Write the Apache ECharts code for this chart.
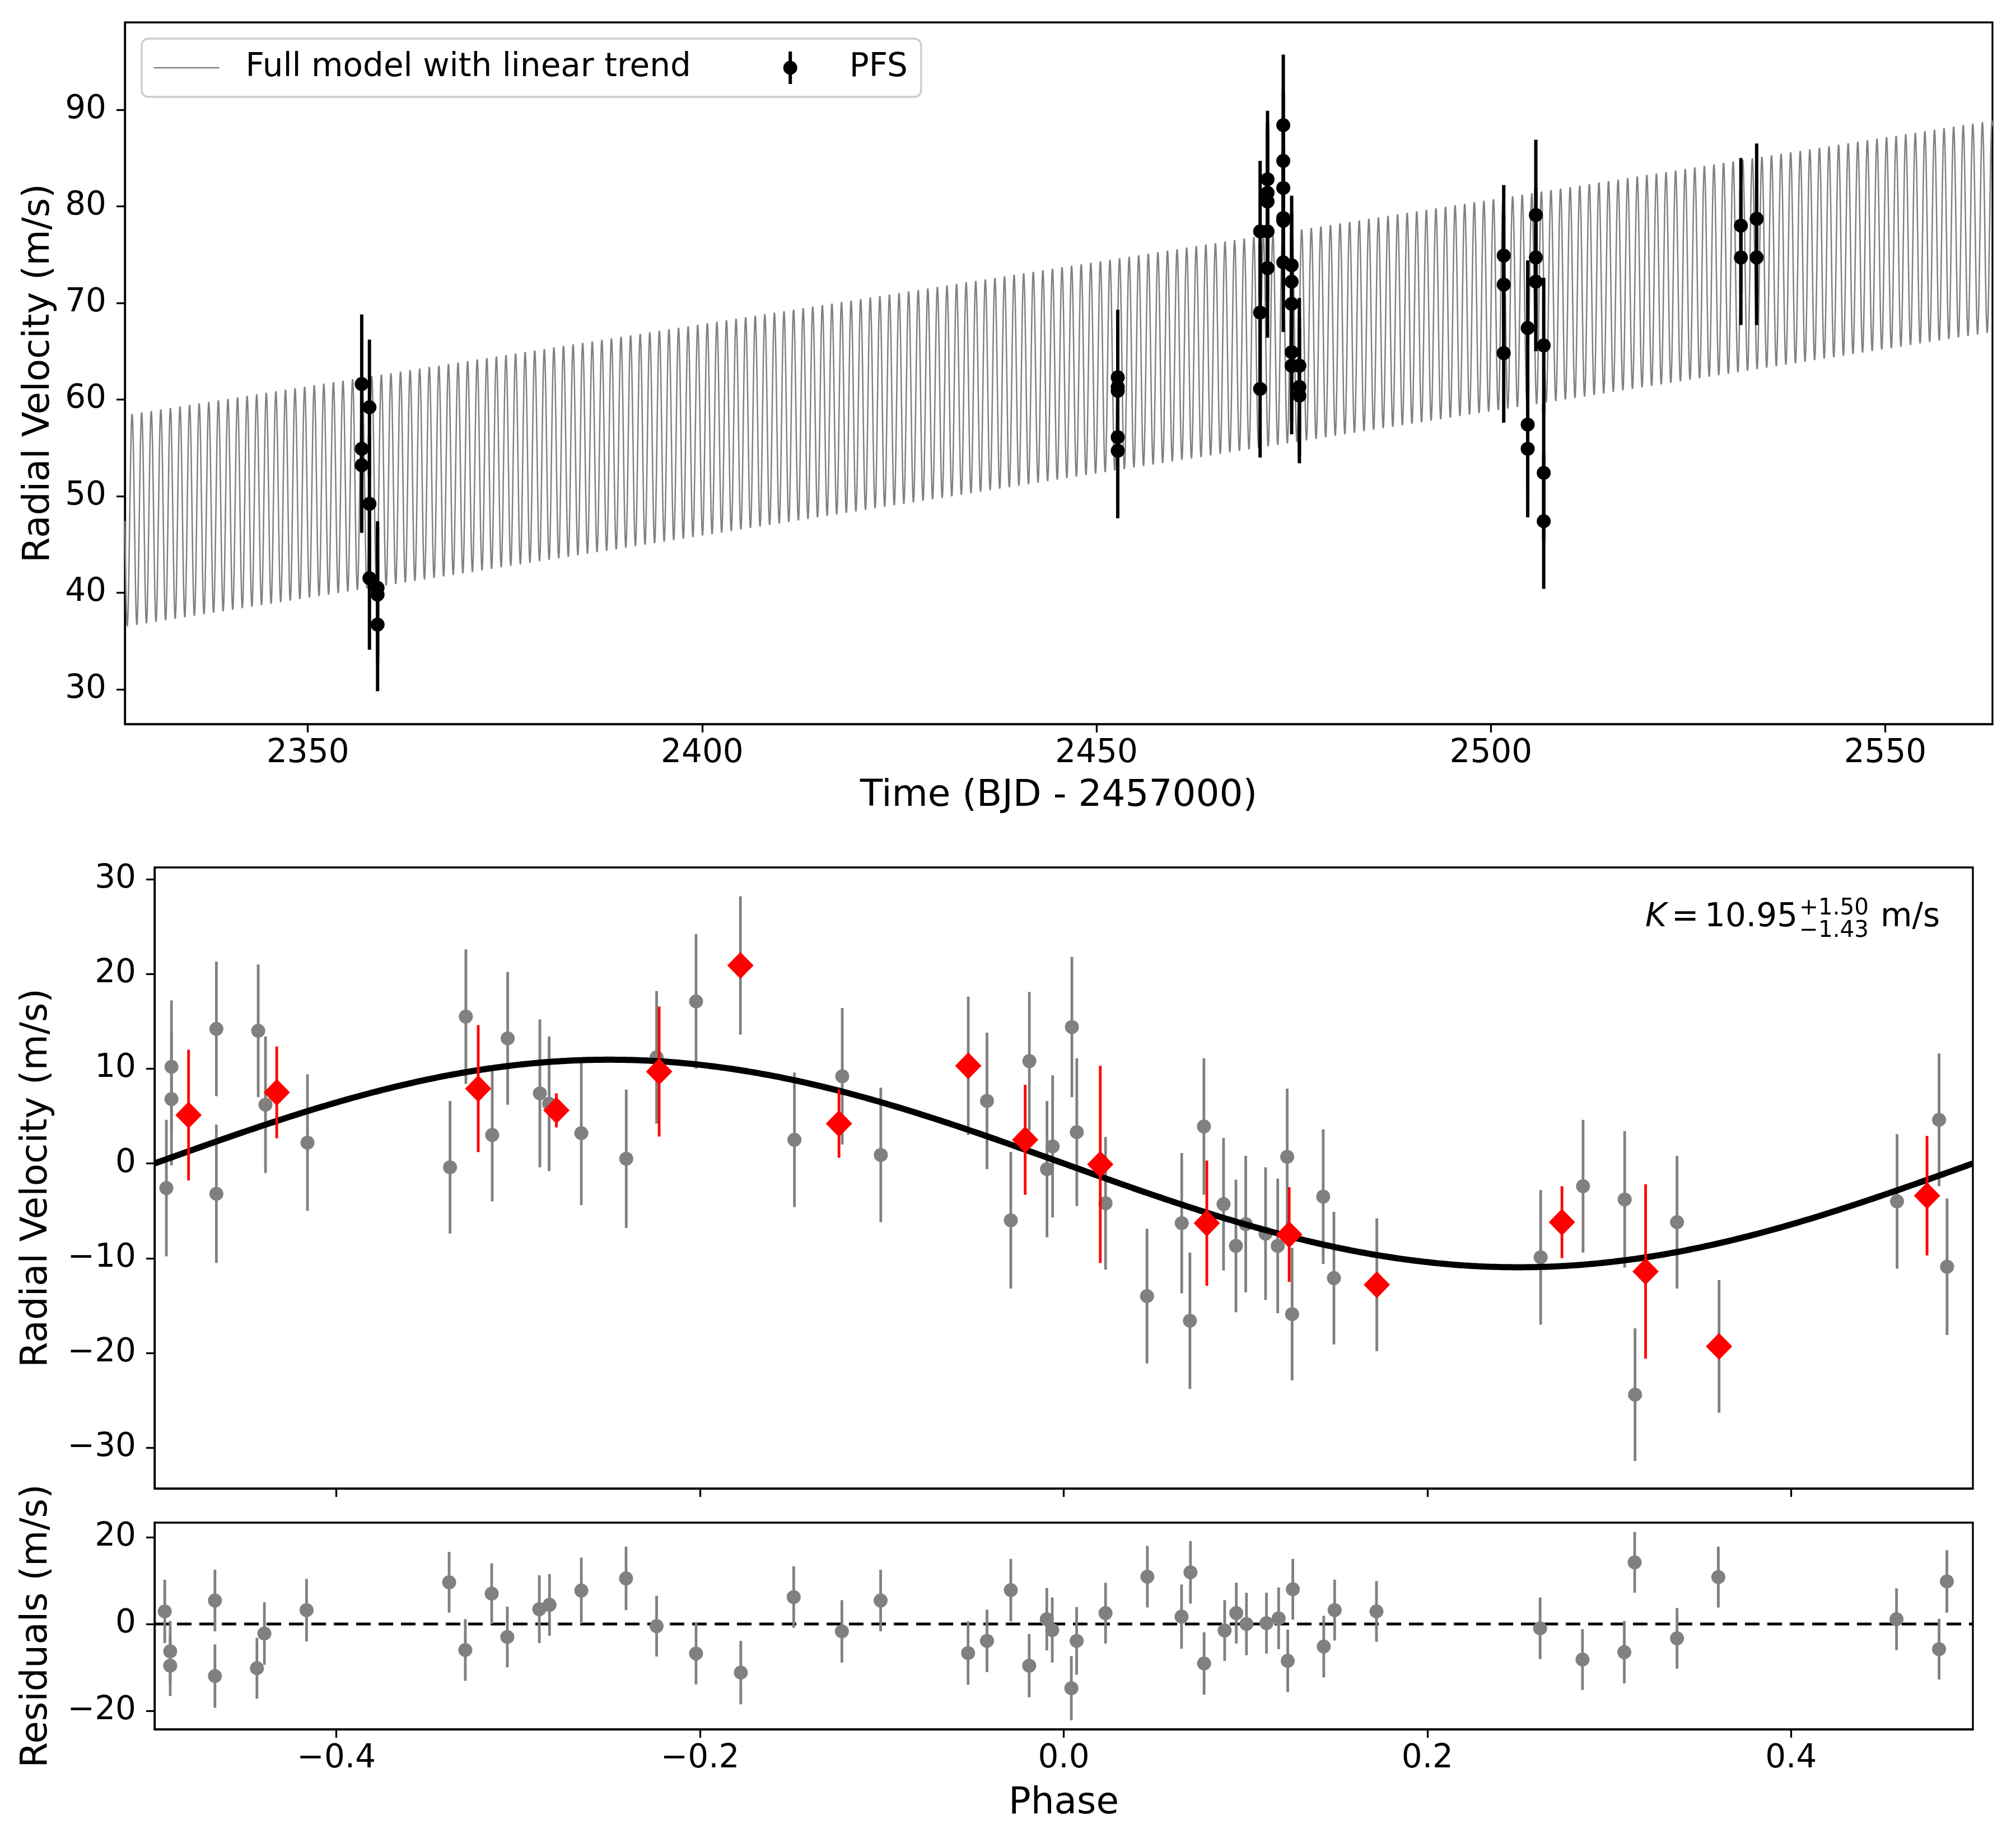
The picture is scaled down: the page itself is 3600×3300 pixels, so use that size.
<!DOCTYPE html>
<html>
<head>
<meta charset="utf-8">
<script src="https://cdn.jsdelivr.net/npm/echarts@6/dist/echarts.min.js"></script>
<style>
html,body{margin:0;padding:0;background:#ffffff;}
#chart{width:3600px;height:3300px;}
</style>
</head>
<body>
<div id="chart"></div>
<script>
// ---------------- data ----------------
// Top panel: PFS radial velocities vs time (BJD - 2457000)
const topTime = [
  2356.83,2356.83,2356.83,
  2357.81,2357.81,2357.81,
  2358.84,2358.84,2358.84,
  2452.69,2452.69,2452.69,2452.69,2452.69,
  2470.74,2470.74,2470.74,
  2471.68,2471.68,2471.68,2471.68,2471.68,
  2473.68,2473.68,2473.68,2473.68,2473.68,2473.68,
  2474.74,2474.74,2474.74,2474.74,2474.74,
  2475.72,2475.72,2475.72,
  2501.63,2501.63,2501.63,
  2504.67,2504.67,2504.67,
  2505.70,2505.70,2505.70,
  2506.70,2506.70,2506.70,
  2531.70,2531.70,
  2533.70,2533.70
];
const topRV = [
  61.6,54.9,53.2,
  59.2,49.2,41.5,
  40.5,39.8,36.7,
  62.3,61.3,60.9,56.1,54.7,
  77.4,69.0,61.1,
  82.8,81.4,80.5,77.4,73.6,
  88.4,84.7,81.9,78.8,78.5,74.2,
  73.9,72.2,69.9,64.9,63.5,
  63.5,61.3,60.4,
  74.9,71.9,64.8,
  67.4,57.4,54.9,
  79.1,74.7,72.2,
  65.6,52.4,47.4,
  78.0,74.7,
  78.7,74.7
];
const topErr = [
  7.2,7.1,7.0,
  7.0,7.1,7.4,
  6.9,7.0,6.9,
  7.0,7.1,7.1,7.2,7.0,
  7.3,7.2,7.1,
  7.1,7.2,7.2,7.2,7.2,
  7.3,7.2,7.2,7.2,7.2,7.2,
  7.2,7.2,7.2,7.2,7.1,
  7.0,7.1,7.0,
  7.3,7.2,7.2,
  7.0,7.2,7.1,
  7.8,7.2,7.2,
  7.0,7.1,7.0,
  7.0,7.0,
  7.8,7.0
];

// Phase-folded panel: individual points (gray)
const phaseGray = [
  -0.4935,-0.4907,-0.4907,-0.4660,-0.4660,-0.4430,-0.4390,-0.4159,-0.3375,-0.3288,
  -0.3143,-0.3058,-0.2881,-0.2830,-0.2653,-0.2406,-0.2239,-0.2022,-0.1778,-0.1481,
  -0.1218,-0.1006,-0.0525,-0.0422,-0.0291,-0.0189,-0.0092,-0.0061,0.0045,0.0072,
  0.0230,0.0458,0.0649,0.0694,0.0771,0.0879,0.0947,0.1001,0.1110,0.1177,
  0.1229,0.1256,0.1427,0.1486,0.1722,0.2623,0.2856,0.3085,0.3142,0.3373,
  0.3604,0.4583,0.4814,0.4858
];
const rvGray = [
  -2.6,10.2,6.8,14.2,-3.2,14.0,6.2,2.2,-0.4,15.5,
  3.0,13.2,7.4,6.3,3.2,0.5,11.2,17.1,20.9,2.5,
  9.2,0.9,10.3,6.6,-6.0,10.8,-0.6,1.8,14.4,3.3,
  -4.2,-14.0,-6.3,-16.6,3.9,-4.3,-8.7,-6.4,-7.4,-8.7,
  0.7,-15.9,-3.5,-12.1,-12.8,-9.9,-2.4,-3.8,-24.4,-6.2,
  -19.3,-4.0,4.6,-10.9
];
const errGray = [
  7.2,7.0,7.0,7.1,7.3,7.0,7.2,7.2,7.0,7.1,
  7.0,7.0,7.8,7.1,7.6,7.3,7.0,7.1,7.3,7.1,
  7.2,7.1,7.3,7.2,7.2,7.3,7.2,7.5,7.4,7.8,
  7.0,7.1,7.4,7.2,7.2,7.0,7.0,7.2,7.0,7.1,
  7.2,7.0,7.1,7.0,7.0,7.1,7.0,7.2,7.0,7.0,
  7.0,7.1,7.0,7.2
];

// Phase-folded panel: binned points (red diamonds)
const phaseBin = [-0.4813,-0.4328,-0.3220,-0.2790,-0.2225,-0.1778,-0.1236,-0.0525,-0.0212,0.0201,0.0787,0.1240,0.1722,0.2740,0.3200,0.3604,0.4748];
const rvBin    = [5.1,7.5,7.9,5.6,9.7,20.9,4.2,10.3,2.5,-0.1,-6.3,-7.5,-12.8,-6.2,-11.4,-19.3,-3.4];
const errBin   = [6.9,4.85,6.7,1.8,6.85,0,3.6,0,5.8,10.4,6.6,5.0,0,3.8,9.2,0,6.3];

// Residual panel
const phaseRes = [
  -0.4944,-0.4914,-0.4914,-0.4668,-0.4668,-0.4437,-0.4396,-0.4164,-0.3380,-0.3291,
  -0.3146,-0.3060,-0.2884,-0.2828,-0.2653,-0.2407,-0.2239,-0.2022,-0.1776,-0.1485,
  -0.1220,-0.1007,-0.0526,-0.0422,-0.0291,-0.0190,-0.0093,-0.0063,0.0042,0.0071,
  0.0230,0.0460,0.0648,0.0697,0.0772,0.0885,0.0949,0.1005,0.1115,0.1182,
  0.1232,0.1260,0.1430,0.1490,0.1720,0.2620,0.2853,0.3083,0.3140,0.3373,
  0.3600,0.4580,0.4814,0.4857
];
const resVal = [
  2.9,-6.3,-9.6,5.4,-12.0,-10.2,-2.2,3.2,9.6,-6.0,
  7.0,-3.0,3.4,4.4,7.7,10.5,-0.5,-6.8,-11.2,6.2,
  -1.7,5.4,-6.7,-3.9,7.8,-9.6,1.1,-1.4,-14.8,-3.9,
  2.5,10.9,1.7,11.9,-9.1,-1.5,2.5,0.0,0.2,1.3,
  -8.5,8.0,-5.2,3.2,2.9,-1.0,-8.2,-6.5,14.2,-3.3,
  10.8,1.1,-5.8,9.8
];
const resErr = [
  7.3,7.0,7.0,7.1,7.3,7.0,7.2,7.2,7.0,7.1,
  7.0,7.0,7.8,7.1,7.6,7.3,7.0,7.1,7.3,7.1,
  7.2,7.1,7.3,7.2,7.2,7.3,7.2,7.5,7.4,7.8,
  7.0,7.1,7.4,7.2,7.2,7.0,7.0,7.2,7.0,7.1,
  7.2,7.0,7.1,7.0,7.0,7.1,7.0,7.2,7.0,7.0,
  7.0,7.1,7.0,7.2
];

// Model parameters (fitted values shown in the figure)
const K_AMP = 10.95;
const MODEL_PERIOD = 1.2156;     // days
const MODEL_TC = 2326.8;
const TREND_T0 = 2450.0;
const TREND_V0 = 63.3;
const TREND_SLOPE = 0.1288;      // m/s per day

// Axis ranges and tick labels
const topXRange = [2326.8, 2563.6];
const topYRange = [26.4, 99.04];
const phaseRange = [-0.5, 0.5];
const rvYRange = [-34.3, 31.24];
const resYRange = [-24.26, 23.35];
const topXTicks = [2350, 2400, 2450, 2500, 2550];
const topYTicks = [30, 40, 50, 60, 70, 80, 90];
const phaseXTicks = [-0.4, -0.2, 0.0, 0.2, 0.4];
const rvYTicks = [-30, -20, -10, 0, 10, 20, 30];
const resYTicks = [-20, 0, 20];

// ---------------- build series data ----------------
const zip3 = (a, b, c) => a.map((v, i) => [v, b[i], c[i]]);
const zip2 = (a, b) => a.map((v, i) => [v, b[i]]);

const modelTop = [];
{
  const step = MODEL_PERIOD / 40;
  for (let t = topXRange[0]; t <= topXRange[1] + 1e-9; t += step) {
    const v = TREND_V0 + TREND_SLOPE * (t - TREND_T0) - K_AMP * Math.sin(2 * Math.PI * (t - MODEL_TC) / MODEL_PERIOD);
    modelTop.push([t, v]);
  }
}
const modelPhase = [];
for (let i = 0; i <= 500; i++) {
  const p = -0.5 + i / 500;
  modelPhase.push([p, -K_AMP * Math.sin(2 * Math.PI * p)]);
}

const FONT = '"DejaVu Sans", "Liberation Sans", sans-serif';
const TICK_FS = 58;
const NAME_FS = 66;
const minus = (s) => s.replace('-', '\u2212');

function errBar(color, width) {
  return function (params, api) {
    const x = api.value(0), y = api.value(1), e = api.value(2);
    const a = api.coord([x, y - e]);
    const b = api.coord([x, y + e]);
    return { type: 'line', shape: { x1: a[0], y1: a[1], x2: b[0], y2: b[1] },
             style: { stroke: color, lineWidth: width } };
  };
}

function valueAxis(o) {
  return Object.assign({
    type: 'value',
    scale: true,
    splitLine: { show: false },
    axisLine: { show: true, onZero: false, lineStyle: { color: '#000', width: 3.3 } },
    axisTick: { show: true, inside: false, length: 15, lineStyle: { color: '#000', width: 3.3 } },
    nameTextStyle: { fontSize: NAME_FS, color: '#000', fontFamily: FONT },
    nameLocation: 'middle'
  }, o);
}

const option = {
  animation: false,
  backgroundColor: '#ffffff',
  textStyle: { fontFamily: FONT },
  grid: [
    { left: 223, top: 40, width: 3335, height: 1253, show: true, borderColor: '#000', borderWidth: 3.3, backgroundColor: 'transparent' },
    { left: 276, top: 1549, width: 3247, height: 1109, show: true, borderColor: '#000', borderWidth: 3.3, backgroundColor: 'transparent' },
    { left: 276, top: 2719, width: 3247, height: 369, show: true, borderColor: '#000', borderWidth: 3.3, backgroundColor: 'transparent' }
  ],
  xAxis: [
    valueAxis({ gridIndex: 0, min: topXRange[0], max: topXRange[1],
      axisTick: { show: true, length: 15, customValues: topXTicks, lineStyle: { color: '#000', width: 3.3 } },
      axisLabel: { customValues: topXTicks, fontSize: TICK_FS, color: '#000', margin: 24, fontFamily: FONT,
                   formatter: (v) => String(Math.round(v)) },
      name: 'Time (BJD - 2457000)', nameGap: 96 }),
    valueAxis({ gridIndex: 1, min: phaseRange[0], max: phaseRange[1],
      axisTick: { show: true, length: 15, customValues: phaseXTicks, lineStyle: { color: '#000', width: 3.3 } },
      axisLabel: { show: false, customValues: phaseXTicks } }),
    valueAxis({ gridIndex: 2, min: phaseRange[0], max: phaseRange[1],
      axisTick: { show: true, length: 15, customValues: phaseXTicks, lineStyle: { color: '#000', width: 3.3 } },
      axisLabel: { customValues: phaseXTicks, fontSize: TICK_FS, color: '#000', margin: 24, fontFamily: FONT,
                   formatter: (v) => minus(Number(v).toFixed(1)) },
      name: 'Phase', nameGap: 100 })
  ],
  yAxis: [
    valueAxis({ gridIndex: 0, min: topYRange[0], max: topYRange[1],
      axisTick: { show: true, length: 15, customValues: topYTicks, lineStyle: { color: '#000', width: 3.3 } },
      axisLabel: { customValues: topYTicks, fontSize: TICK_FS, color: '#000', margin: 33, fontFamily: FONT,
                   formatter: (v) => String(Math.round(v)) },
      name: 'Radial Velocity (m/s)', nameRotate: 90, nameGap: 120 }),
    valueAxis({ gridIndex: 1, min: rvYRange[0], max: rvYRange[1],
      axisTick: { show: true, length: 15, customValues: rvYTicks, lineStyle: { color: '#000', width: 3.3 } },
      axisLabel: { customValues: rvYTicks, fontSize: TICK_FS, color: '#000', margin: 33, fontFamily: FONT,
                   formatter: (v) => minus(String(Math.round(v))) },
      name: 'Radial Velocity (m/s)', nameRotate: 90, nameGap: 177 }),
    valueAxis({ gridIndex: 2, min: resYRange[0], max: resYRange[1],
      axisTick: { show: true, length: 15, customValues: resYTicks, lineStyle: { color: '#000', width: 3.3 } },
      axisLabel: { customValues: resYTicks, fontSize: TICK_FS, color: '#000', margin: 33, fontFamily: FONT,
                   formatter: (v) => minus(String(Math.round(v))) },
      name: 'Residuals (m/s)', nameRotate: 90, nameGap: 177 })
  ],
  legend: {
    left: 253, top: 69,
    orient: 'horizontal',
    padding: [23, 24, 23, 21.5],
    itemWidth: 117, itemHeight: 58, itemGap: 165,
    selectedMode: false,
    backgroundColor: 'rgba(255,255,255,0.8)',
    borderColor: '#cccccc', borderWidth: 3.3, borderRadius: 12,
    textStyle: { fontSize: TICK_FS, color: '#000', fontFamily: FONT, padding: [0, 0, 0, 42] },
    data: [
      { name: 'Full model with linear trend', icon: 'path://M0,0h117v2.4h-117Z', itemStyle: { color: '#808080' } },
      { name: 'PFS', icon: 'path://M-3,-29h6v58h-6Z M-12.5,0a12.5,12.5 0 1 1 25,0a12.5,12.5 0 1 1 -25,0Z' }
    ]
  },
  graphic: [
    { type: 'text', x: 2938, y: 1638.5, z: 100,
      style: { text: 'K', font: 'italic 58px "DejaVu Sans"', fill: '#000', align: 'left', verticalAlign: 'middle' } },
    { type: 'text', x: 2985, y: 1638.5, z: 100,
      style: { text: '=', font: '58px "DejaVu Sans"', fill: '#000', align: 'left', verticalAlign: 'middle' } },
    { type: 'text', x: 3044, y: 1638.5, z: 100,
      style: { text: '10.95', font: '58px "DejaVu Sans"', fill: '#000', align: 'left', verticalAlign: 'middle' } },
    { type: 'text', x: 3213, y: 1622, z: 100,
      style: { text: '+1.50', font: '40.5px "DejaVu Sans"', fill: '#000', align: 'left', verticalAlign: 'middle' } },
    { type: 'text', x: 3213, y: 1662, z: 100,
      style: { text: '\u22121.43', font: '40.5px "DejaVu Sans"', fill: '#000', align: 'left', verticalAlign: 'middle' } },
    { type: 'text', x: 3358, y: 1638.5, z: 100,
      style: { text: 'm/s', font: '58px "DejaVu Sans"', fill: '#000', align: 'left', verticalAlign: 'middle' } }
  ],
  series: [
    // ---- top panel ----
    { name: 'Full model with linear trend', type: 'line', xAxisIndex: 0, yAxisIndex: 0,
      data: modelTop, symbol: 'none', showSymbol: false, sampling: false, progressive: 0,
      lineStyle: { color: '#808080', width: 2.5 }, itemStyle: { color: '#808080' }, z: 1, silent: true },
    { name: 'PFS errors', type: 'custom', xAxisIndex: 0, yAxisIndex: 0,
      data: zip3(topTime, topRV, topErr), encode: { x: 0, y: 1 },
      renderItem: errBar('#000000', 6), z: 3, progressive: 0, silent: true },
    { name: 'PFS', type: 'scatter', xAxisIndex: 0, yAxisIndex: 0,
      data: zip2(topTime, topRV), symbol: 'circle', symbolSize: 25,
      itemStyle: { color: '#000000', opacity: 1 }, z: 4, silent: true },
    // ---- phase panel ----
    { name: 'gray errors', type: 'custom', xAxisIndex: 1, yAxisIndex: 1,
      data: zip3(phaseGray, rvGray, errGray), encode: { x: 0, y: 1 },
      renderItem: errBar('#808080', 4.8), z: 2, progressive: 0, silent: true },
    { name: 'gray points', type: 'scatter', xAxisIndex: 1, yAxisIndex: 1,
      data: zip2(phaseGray, rvGray), symbol: 'circle', symbolSize: 25,
      itemStyle: { color: '#808080', opacity: 1 }, z: 3, silent: true },
    { name: 'model', type: 'line', xAxisIndex: 1, yAxisIndex: 1,
      data: modelPhase, symbol: 'none', showSymbol: false,
      lineStyle: { color: '#000000', width: 11 }, z: 4, silent: true },
    { name: 'binned errors', type: 'custom', xAxisIndex: 1, yAxisIndex: 1,
      data: zip3(phaseBin, rvBin, errBin), encode: { x: 0, y: 1 },
      renderItem: errBar('#ff0000', 4.8), z: 5, progressive: 0, silent: true },
    { name: 'binned', type: 'scatter', xAxisIndex: 1, yAxisIndex: 1,
      data: zip2(phaseBin, rvBin), symbol: 'diamond', symbolSize: [47, 48],
      itemStyle: { color: '#ff0000', opacity: 1 }, z: 6, silent: true },
    // ---- residual panel ----
    { name: 'zero', type: 'line', xAxisIndex: 2, yAxisIndex: 2,
      data: [[phaseRange[0], 0], [phaseRange[1], 0]], symbol: 'none',
      lineStyle: { color: '#000000', width: 5, type: [26, 14] }, z: 2, silent: true },
    { name: 'res errors', type: 'custom', xAxisIndex: 2, yAxisIndex: 2,
      data: zip3(phaseRes, resVal, resErr), encode: { x: 0, y: 1 },
      renderItem: errBar('#808080', 4.8), z: 3, progressive: 0, silent: true },
    { name: 'residuals', type: 'scatter', xAxisIndex: 2, yAxisIndex: 2,
      data: zip2(phaseRes, resVal), symbol: 'circle', symbolSize: 25,
      itemStyle: { color: '#808080', opacity: 1 }, z: 4, silent: true }
  ]
};

const chart = echarts.init(document.getElementById('chart'), null, { renderer: 'canvas', width: 3600, height: 3300 });
chart.setOption(option);
</script>
</body>
</html>
